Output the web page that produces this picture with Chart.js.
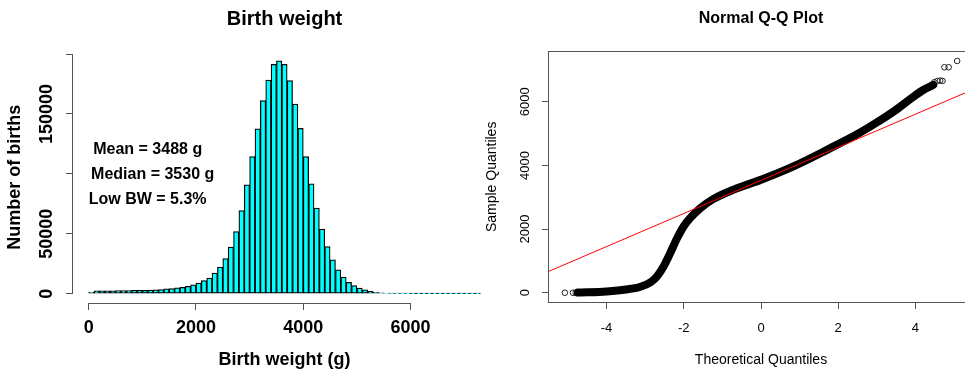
<!DOCTYPE html>
<html>
<head>
<meta charset="utf-8">
<script src="https://cdn.jsdelivr.net/npm/chart.js@4/dist/chart.umd.min.js"></script>
<style>
html, body { margin: 0; padding: 0; background: #fff; overflow: hidden; width: 965px; height: 372px; }
canvas { position: absolute; top: 0; }
#hist { left: 0; }
#qq { left: 480px; }
</style>
</head>
<body>
<canvas id="hist" width="500" height="372"></canvas>
<canvas id="qq" width="500" height="372"></canvas>
<script>
// histogram: births per 100 g bin, starting at 0 g
const binWidth = 100
const birthCounts = [
    1200, 2300, 2400, 2400, 2400, 2500, 2500, 2600, 2700, 2800,
    2900, 3000, 3200, 3500, 4000, 4300, 4800, 5300, 6100, 7400,
    8900, 11000, 13000, 17200, 22200, 29200, 38900, 51900, 69400, 90800,
    114400, 137500, 161100, 178300, 191400, 194400, 191400, 177800, 158300, 138000,
    114400, 91700, 71400, 53900, 39400, 28300, 20000, 13900, 9400, 6700,
    4700, 3300, 1900, 1100, 700, 450, 300, 200, 150, 120,
    100, 80, 70, 60, 50, 40, 35, 30, 25, 20,
    15, 10, 10
]
const histXTicks = [0, 2000, 4000, 6000]
const histYTicks = [0, 50000, 100000, 150000, 200000]
const histYLabels = ['0', '50000', '', '150000', '']
const statsLines = ['Mean = 3488 g', 'Median = 3530 g', 'Low BW = 5.3%']

// normal Q-Q plot, read along the dense band of points
const qqTheo = [-4.74, -4.5, -4.0, -3.5, -3.12, -2.86, -2.69, -2.52, -2.35, -2.17, -2.0, -1.83, -1.57, -1.23, -0.71, 0, 0.84, 1.71, 2.57, 3.0, 3.43, 3.86, 4.2, 4.46]
const qqSample = [5, 12, 40, 100, 190, 330, 520, 835, 1250, 1720, 2090, 2350, 2660, 2950, 3240, 3550, 3970, 4490, 5035, 5350, 5690, 6080, 6370, 6530]
// isolated points at the tails
const tailTheo = [-5.08, -4.87, -4.8, -4.76, 4.49, 4.57, 4.64, 4.7, 4.75, 4.86, 5.08]
const tailSample = [0, 0, 0, 2, 6615, 6655, 6665, 6655, 7085, 7085, 7282]
// qqline end points
const lineTheo = [-5.49, 5.49]
const lineSample = [675, 6385]
const qqXTicks = [-4, -2, 0, 2, 4]
const qqYTicks = [0, 2000, 4000, 6000]

const FONT = '"Liberation Sans", Arial, sans-serif'
const axisGrey = '#555'

function fixSize(w, h) {
    return s => { if (w) s.width = w; if (h) s.height = h }
}

function setTicks(values) {
    return s => { s.ticks = values.map(v => ({ value: v })) }
}

function rotText(ctx, text, x, y) {
    ctx.save()
    ctx.translate(x, y)
    ctx.rotate(-Math.PI / 2)
    ctx.fillText(text, 0, 0)
    ctx.restore()
}

const histDecor = {
    id: 'histDecor',
    afterDraw(chart) {
        const { ctx, chartArea: a, scales: { x, y } } = chart
        ctx.save()
        ctx.strokeStyle = axisGrey
        ctx.lineWidth = 1
        ctx.beginPath()
        ctx.moveTo(x.getPixelForValue(histXTicks[0]), Math.round(a.bottom) + 0.5)
        ctx.lineTo(x.getPixelForValue(histXTicks[histXTicks.length - 1]), Math.round(a.bottom) + 0.5)
        ctx.moveTo(Math.round(a.left) - 0.5, y.getPixelForValue(histYTicks[0]))
        ctx.lineTo(Math.round(a.left) - 0.5, y.getPixelForValue(histYTicks[histYTicks.length - 1]))
        ctx.stroke()

        ctx.fillStyle = '#000'
        ctx.textAlign = 'center'
        ctx.textBaseline = 'middle'
        ctx.font = 'bold 20px ' + FONT
        ctx.fillText('Birth weight', (a.left + a.right) / 2, 19)

        ctx.font = 'bold 18px ' + FONT
        histXTicks.forEach(v => ctx.fillText(String(v), x.getPixelForValue(v), 328))
        histYTicks.forEach((v, i) => { if (histYLabels[i]) rotText(ctx, histYLabels[i], 47, y.getPixelForValue(v)) })
        ctx.fillText('Birth weight (g)', (a.left + a.right) / 2, 360)
        rotText(ctx, 'Number of births', 15, (a.top + a.bottom) / 2)

        ctx.font = 'bold 16px ' + FONT
        const cx = x.getPixelForValue(1100)
        const cy = y.getPixelForValue(120000)
        statsLines.forEach((t, i) => ctx.fillText(t, cx + (i == 1 ? 5 : 0), cy + i * 25))
        ctx.restore()
    }
}

const qqDecor = {
    id: 'qqDecor',
    afterDraw(chart) {
        const { ctx, chartArea: a, scales: { x, y } } = chart
        ctx.save()
        ctx.strokeStyle = axisGrey
        ctx.lineWidth = 1
        ctx.strokeRect(Math.round(a.left) - 0.5, Math.round(a.top) - 0.5, a.right - a.left, Math.round(a.bottom) - Math.round(a.top) + 1)

        ctx.fillStyle = '#000'
        ctx.textAlign = 'center'
        ctx.textBaseline = 'middle'
        ctx.font = 'bold 16px ' + FONT
        ctx.fillText('Normal Q-Q Plot', (a.left + a.right) / 2, 19)

        ctx.font = '13px ' + FONT
        qqXTicks.forEach(v => ctx.fillText(String(v), x.getPixelForValue(v), 328))
        qqYTicks.forEach(v => rotText(ctx, String(v), 45, y.getPixelForValue(v)))
        ctx.font = '14px ' + FONT
        ctx.fillText('Theoretical Quantiles', (a.left + a.right) / 2, 360)
        rotText(ctx, 'Sample Quantiles', 12, (a.top + a.bottom) / 2)
        ctx.restore()
    }
}

const tickGrid = {
    display: true,
    drawOnChartArea: false,
    drawTicks: true,
    tickLength: 7,
    color: axisGrey,
    lineWidth: 1
}

const histMax = 194400
new Chart('hist', {
    type: 'bar',
    data: {
        datasets: [{
            data: birthCounts.map((c, i) => ({ x: i * binWidth + binWidth / 2, y: c })),
            backgroundColor: '#00ffff',
            borderColor: '#000',
            borderWidth: 1.25,
            borderSkipped: false,
            barPercentage: 1,
            categoryPercentage: 1
        }]
    },
    options: {
        responsive: false,
        animation: false,
        events: [],
        layout: { padding: { left: 53, right: 4, top: 51.4, bottom: 49 } },
        plugins: { legend: { display: false }, tooltip: { enabled: false } },
        scales: {
            x: {
                type: 'linear',
                offset: false,
                min: -292,
                max: 7592,
                afterFit: fixSize(0, 20),
                afterBuildTicks: setTicks(histXTicks),
                ticks: { display: false },
                grid: { ...tickGrid, offset: false },
                border: { display: false }
            },
            y: {
                min: -0.04 * histMax,
                max: 1.04 * histMax,
                afterFit: fixSize(20, 0),
                afterBuildTicks: setTicks(histYTicks),
                ticks: { display: false },
                grid: tickGrid,
                border: { display: false }
            }
        }
    },
    plugins: [histDecor]
})

new Chart('qq', {
    type: 'line',
    data: {
        datasets: [
            {
                data: lineTheo.map((v, i) => ({ x: v, y: lineSample[i] })),
                borderColor: '#ff0000',
                borderWidth: 1,
                pointRadius: 0,
                order: 0
            },
            {
                data: qqTheo.map((v, i) => ({ x: v, y: qqSample[i] })),
                borderColor: '#000',
                borderWidth: 8,
                borderCapStyle: 'round',
                borderJoinStyle: 'round',
                cubicInterpolationMode: 'monotone',
                pointRadius: 0,
                order: 1
            },
            {
                data: tailTheo.map((v, i) => ({ x: v, y: tailSample[i] })),
                showLine: false,
                pointRadius: 2.8,
                pointBorderWidth: 1,
                pointBorderColor: '#222',
                pointBackgroundColor: 'rgba(0,0,0,0)',
                order: 2
            }
        ]
    },
    options: {
        responsive: false,
        animation: false,
        events: [],
        layout: { padding: { left: 49, right: 7, top: 51.7, bottom: 50 } },
        plugins: { legend: { display: false }, tooltip: { enabled: false } },
        scales: {
            x: {
                type: 'linear',
                min: -5.49,
                max: 5.49,
                afterFit: fixSize(0, 20),
                afterBuildTicks: setTicks(qqXTicks),
                ticks: { display: false },
                grid: tickGrid,
                border: { display: false }
            },
            y: {
                min: -291,
                max: 7573,
                afterFit: fixSize(20, 0),
                afterBuildTicks: setTicks(qqYTicks),
                ticks: { display: false },
                grid: tickGrid,
                border: { display: false }
            }
        }
    },
    plugins: [qqDecor]
})
</script>
</body>
</html>
